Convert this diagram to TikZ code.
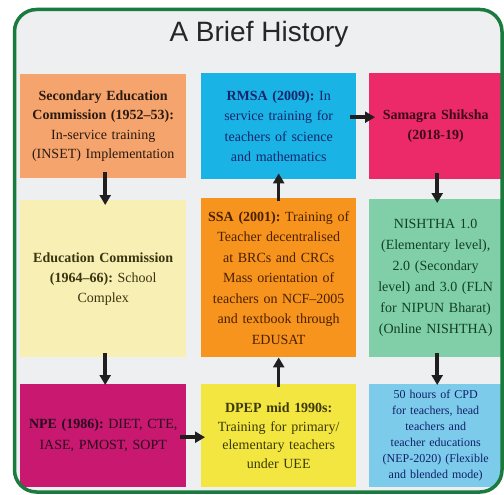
\documentclass[tikz,border=0pt]{standalone}
\usepackage{fontspec}
\setmainfont{Liberation Serif}
\newfontfamily\titlefont{Liberation Sans}
\usetikzlibrary{arrows.meta}
\frenchspacing
\definecolor{bgc}{HTML}{EDEFF1}
\definecolor{borderc}{HTML}{1B7A3E}
\definecolor{c11}{HTML}{F4A46C}
\definecolor{c21}{HTML}{F7EFB4}
\definecolor{c31}{HTML}{C8186F}
\definecolor{c12}{HTML}{1AB3E6}
\definecolor{c22}{HTML}{F7941D}
\definecolor{c32}{HTML}{F4E640}
\definecolor{c13}{HTML}{EC2A6A}
\definecolor{c23}{HTML}{80CFA9}
\definecolor{c33}{HTML}{7DCBEB}
\definecolor{t11}{HTML}{2B1A10}
\definecolor{t21}{HTML}{3A3510}
\definecolor{t31}{HTML}{2A0A20}
\definecolor{t12}{HTML}{15256A}
\definecolor{t22}{HTML}{4A2000}
\definecolor{t32}{HTML}{3A3A08}
\definecolor{t13}{HTML}{3A0A1A}
\definecolor{t23}{HTML}{123F28}
\definecolor{t33}{HTML}{10206A}
\begin{document}
\begin{tikzpicture}[x=1pt,y=-1pt,
  box/.style={draw=none, anchor=north west, inner sep=2pt, align=center,
    font=\fontsize{14}{19.5}\selectfont},
  arr/.style={line width=3.5pt, -{Triangle[width=11pt,length=10pt]}, black!88}]
\useasboundingbox (0,0) rectangle (504,495);
\fill[white] (0,0) rectangle (504,495);
\fill[bgc, rounded corners=22pt] (14.5,9.5) rectangle (502,492);

\node[font=\titlefont\fontsize{28}{30}\selectfont, anchor=base, text=black!85] (title) at (259,42) {A Brief History};

% column 1
\node[box, fill=c11, text=t11, text width=162pt, minimum height=104pt] (sec) at (20,74)
  {\textbf{Secondary Education}\\\textbf{Commission (1952–53):}\\In-service training\\(INSET) Implementation};
\node[box, fill=c21, text=t21, text width=162pt, minimum height=157pt, font=\fontsize{14}{20}\selectfont] (edu) at (20,200)
  {\textbf{Education Commission}\\\textbf{(1964–66):} School\\Complex};
\node[box, fill=c31, text=t31, text width=162pt, minimum height=103pt, font=\fontsize{14}{21}\selectfont] (npe) at (20,384)
  {\textbf{NPE (1986):} DIET, CTE,\\IASE, PMOST, SOPT};

% column 2
\node[box, fill=c12, text=t12, text width=151pt, minimum height=106pt, font=\fontsize{14}{20.5}\selectfont] (rmsa) at (201,73)
  {\textbf{RMSA (2009):} In\\service training for\\teachers of science\\and mathematics};
\node[box, fill=c22, text=t22, text width=151pt, minimum height=159pt, font=\fontsize{14}{20.5}\selectfont] (ssa) at (201,198)
  {\textbf{SSA (2001):} Training of\\Teacher decentralised\\at BRCs and CRCs\\Mass orientation of\\teachers on NCF–2005\\and textbook through\\EDUSAT};
\node[box, fill=c32, text=t32, text width=151pt, minimum height=103pt, font=\fontsize{14}{18.5}\selectfont] (dpep) at (201,384)
  {\textbf{DPEP mid 1990s:}\\Training for primary/\\elementary teachers\\under UEE};

% column 3
\node[box, fill=c13, text=t13, text width=129pt, minimum height=106pt, font=\fontsize{14}{20}\selectfont] (sam) at (369,73)
  {\textbf{Samagra Shiksha}\\\textbf{(2018-19)}};
\node[box, fill=c23, text=t23, text width=129pt, minimum height=158pt, font=\fontsize{14}{21}\selectfont] (nish) at (369,199)
  {NISHTHA 1.0\\(Elementary level),\\2.0 (Secondary\\level) and 3.0 (FLN\\for NIPUN Bharat)\\(Online NISHTHA)};
\node[box, fill=c33, text=t33, text width=129pt, minimum height=103pt, font=\fontsize{12}{16}\selectfont] (cpd) at (369,384)
  {50 hours of CPD\\for teachers, head\\teachers and\\teacher educations\\(NEP-2020) (Flexible\\and blended mode)};

% arrows
\draw[arr, shorten <=-6pt, shorten >=-5pt] ([xshift=2pt]sec.south) -- ([xshift=2pt]edu.north);
\draw[arr, shorten <=-4pt, shorten >=-1pt] ([xshift=2pt]edu.south) -- ([xshift=2pt]npe.north);
\draw[arr, shorten <=-3pt, shorten >=-6pt] (ssa.north) -- (rmsa.south);
\draw[arr, shorten <=-3pt, shorten >=0pt] (dpep.north) -- (ssa.south);
\draw[arr, shorten <=-6pt, shorten >=-6pt] ([yshift=9pt]rmsa.east) -- ([yshift=9pt]sam.west);
\draw[arr, shorten <=-6pt, shorten >=-4pt] ([yshift=-1.5pt]npe.east) -- ([yshift=-1.5pt]dpep.west);
\draw[arr, shorten <=-6pt, shorten >=-4pt] ([xshift=1.5pt]sam.south) -- ([xshift=1.5pt]nish.north);
\draw[arr, shorten <=-4pt, shorten >=-1pt] ([xshift=1.5pt]nish.south) -- ([xshift=1.5pt]cpd.north);

% outside mask and border
\fill[white, even odd rule] (-2,-2) rectangle (506,497) [rounded corners=22pt] (14.5,9.5) rectangle (502,492);
\draw[borderc, line width=3.5pt, rounded corners=22pt] (14.5,9.5) rectangle (502,492);
\end{tikzpicture}
\end{document}
